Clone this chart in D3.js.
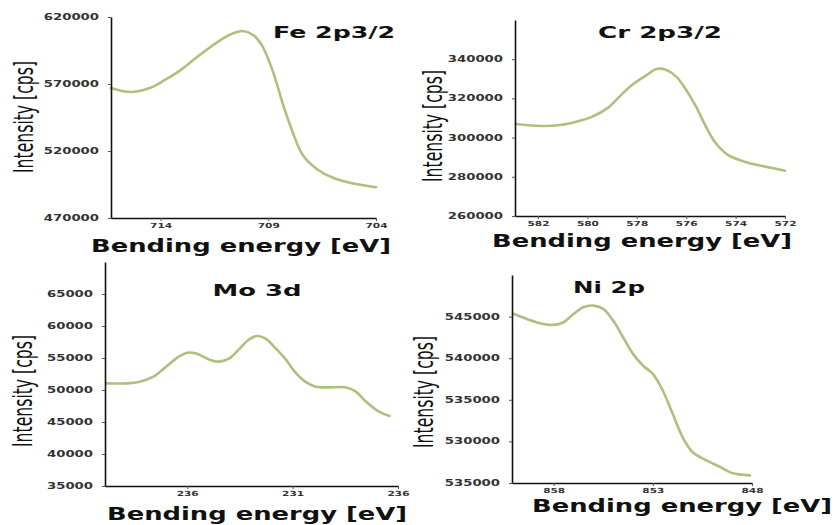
<!DOCTYPE html>
<html>
<head>
<meta charset="utf-8">
<script src="https://cdn.jsdelivr.net/npm/d3@7"></script>
<style>
  html, body { margin: 0; padding: 0; background: #fff; }
  svg { display: block; }
</style>
</head>
<body>
<svg id="chart" width="835" height="525"></svg>
<script>
// ---------- DATA ----------
const feEnergy    = [716.3, 715.4, 714.5, 713.8, 713.1, 712.2, 711.2, 710.6, 710.2, 709.7, 709.3, 708.8, 708.3, 707.9, 707.4, 706.7, 706.0, 705.0, 704.0];
const feIntensity = [567000, 564000, 567000, 573000, 580000, 591500, 603000, 608000, 609500, 606500, 599000, 580000, 554000, 535500, 517000, 506000, 500000, 495500, 493000];
const feXTicks = [714, 709, 704];
const feXLabels = ["714", "709", "704"];
const feYTicks = [620000, 570000, 520000, 470000];
const feYLabels = ["620000", "570000", "520000", "470000"];

const crEnergy    = [582.9, 581.9, 581.1, 580.3, 579.8, 579.2, 578.7, 578.2, 577.6, 577.2, 576.8, 576.4, 576.0, 575.6, 575.2, 574.8, 574.3, 573.5, 572.8, 572.0];
const crIntensity = [306900, 305900, 306400, 308600, 310700, 314900, 320900, 326800, 331900, 335000, 334500, 331100, 324300, 315800, 305600, 297100, 291100, 287200, 285200, 283100];
const crXTicks = [582, 580, 578, 576, 574, 572];
const crXLabels = ["582", "580", "578", "576", "574", "572"];
const crYTicks = [340000, 320000, 300000, 280000, 260000];
const crYLabels = ["340000", "320000", "300000", "280000", "260000"];

const moEnergy    = [239.85, 238.9, 238.25, 237.6, 237.0, 236.4, 236.0, 235.6, 234.9, 234.5, 234.0, 233.5, 233.1, 232.7, 232.3, 231.8, 231.3, 230.9, 230.4, 229.9, 229.1, 228.5, 228.0, 227.6, 226.9, 226.4];
const moIntensity = [51040, 51040, 51300, 52080, 53650, 55200, 55830, 55730, 54690, 54430, 54950, 56510, 57810, 58440, 58070, 56510, 54690, 52860, 51300, 50520, 50420, 50420, 49740, 48440, 46610, 45940];
const moXTicks = [236, 231, 226];
const moXLabels = ["236", "231", "236"];
const moYTicks = [65000, 60000, 55000, 50000, 45000, 40000, 35000];
const moYLabels = ["65000", "60000", "55000", "50000", "45000", "40000", "35000"];

const niEnergy    = [860.0, 859.35, 858.7, 858.0, 857.5, 857.0, 856.5, 856.0, 855.5, 855.0, 854.5, 854.0, 853.5, 853.0, 852.5, 852.0, 851.5, 851.0, 850.3, 849.6, 849.0, 848.1];
const niIntensity = [545320, 544720, 544200, 544000, 544320, 545320, 546120, 546320, 545920, 544520, 542520, 540520, 539120, 538120, 536120, 533320, 530520, 528720, 527720, 526920, 526200, 525920];
const niXTicks = [858, 853, 848];
const niXLabels = ["858", "853", "848"];
const niYTicks = [545000, 540000, 535000, 530000, 525000];
const niYLabels = ["545000", "540000", "535000", "530000", "535000"];

const titles = ["Fe 2p3/2", "Cr 2p3/2", "Mo 3d", "Ni 2p"];
const xAxisTitle = "Bending energy [eV]";
const yAxisTitle = "Intensity [cps]";

// ---------- LAYOUT ----------
const panels = [
  { title: titles[0], energy: feEnergy, intensity: feIntensity, xTicks: feXTicks, xLabels: feXLabels, yTicks: feYTicks, yLabels: feYLabels,
    xDomain: [716.3, 704], yDomain: [470000, 620000], left: 111, right: 376, top: 17, bottom: 218,
    titleX: 334, titleY: 38, titleW: 122, xtX: 241, xtY: 252, ytX: 33, ytY: 117 },
  { title: titles[1], energy: crEnergy, intensity: crIntensity, xTicks: crXTicks, xLabels: crXLabels, yTicks: crYTicks, yLabels: crYLabels,
    xDomain: [582.93, 572], yDomain: [260000, 360000], left: 515, right: 785, top: 20, bottom: 216,
    titleX: 660, titleY: 38, titleW: 124, xtX: 642, xtY: 247, ytX: 442, ytY: 126 },
  { title: titles[2], energy: moEnergy, intensity: moIntensity, xTicks: moXTicks, xLabels: moXLabels, yTicks: moYTicks, yLabels: moYLabels,
    xDomain: [239.9, 226], yDomain: [35000, 70000], left: 105, right: 398, top: 262, bottom: 486,
    titleX: 257, titleY: 296, titleW: 89, xtX: 257, xtY: 520, ytX: 32, ytY: 391 },
  { title: titles[3], energy: niEnergy, intensity: niIntensity, xTicks: niXTicks, xLabels: niXLabels, yTicks: niYTicks, yLabels: niYLabels,
    xDomain: [860.1, 848], yDomain: [525000, 550000], left: 512, right: 752, top: 275, bottom: 483,
    titleX: 609, titleY: 293, titleW: 72, xtX: 682, xtY: 512, ytX: 433, ytY: 392 }
];

const svg = d3.select("#chart");
const lineColor = "#adc17f";
const wideFont = "'DejaVu Sans', Verdana, sans-serif";
const narrowFont = "'Liberation Sans Narrow', 'DejaVu Sans Condensed', 'Liberation Sans', sans-serif";

panels.forEach(p => {
  const g = svg.append("g");
  const x = d3.scaleLinear().domain(p.xDomain).range([p.left, p.right]);
  const y = d3.scaleLinear().domain(p.yDomain).range([p.bottom, p.top]);

  // curve
  const line = d3.line()
    .x((d, i) => x(p.energy[i]))
    .y((d, i) => y(p.intensity[i]))
    .curve(d3.curveCatmullRom.alpha(0.5));
  g.append("path")
    .datum(p.intensity)
    .attr("d", line)
    .attr("fill", "none")
    .attr("stroke", lineColor)
    .attr("stroke-width", 2.6)
    .attr("stroke-linecap", "round");

  // x axis
  const xAxis = d3.axisBottom(x)
    .tickValues(p.xTicks)
    .tickFormat((d, i) => p.xLabels[i])
    .tickSizeInner(3).tickSizeOuter(0).tickPadding(2);
  const gx = g.append("g").attr("transform", `translate(0,${p.bottom})`).call(xAxis);
  gx.select(".domain").attr("stroke", "#111").attr("stroke-width", 1.6);
  gx.selectAll(".tick line").attr("stroke", "#555").attr("stroke-width", 1);
  gx.selectAll(".tick text")
    .attr("font-family", wideFont).attr("font-weight", "bold").attr("font-size", 7)
    .attr("fill", "#333")
    .attr("textLength", 22).attr("lengthAdjust", "spacingAndGlyphs");

  // y axis
  const yAxis = d3.axisLeft(y)
    .tickValues(p.yTicks)
    .tickFormat((d, i) => p.yLabels[i])
    .tickSizeInner(3).tickSizeOuter(0).tickPadding(9);
  const gy = g.append("g").attr("transform", `translate(${p.left},0)`).call(yAxis);
  gy.select(".domain").attr("stroke", "#111").attr("stroke-width", 1.6);
  gy.selectAll(".tick line").attr("stroke", "#555").attr("stroke-width", 1);
  gy.selectAll(".tick text")
    .attr("font-family", wideFont).attr("font-weight", "bold").attr("font-size", 8)
    .attr("fill", "#333")
    .attr("textLength", (d, i) => p.yLabels[i].length * 9.2).attr("lengthAdjust", "spacingAndGlyphs");

  // panel title
  g.append("text")
    .attr("x", p.titleX).attr("y", p.titleY)
    .attr("text-anchor", "middle")
    .attr("font-family", wideFont).attr("font-weight", "bold").attr("font-size", 15)
    .attr("fill", "#111")
    .attr("textLength", p.titleW).attr("lengthAdjust", "spacingAndGlyphs")
    .text(p.title);

  // x axis title
  g.append("text")
    .attr("x", p.xtX).attr("y", p.xtY)
    .attr("text-anchor", "middle")
    .attr("font-family", wideFont).attr("font-weight", "bold").attr("font-size", 17)
    .attr("fill", "#111")
    .attr("textLength", 300).attr("lengthAdjust", "spacingAndGlyphs")
    .text(xAxisTitle);

  // y axis title
  g.append("text")
    .attr("transform", `translate(${p.ytX},${p.ytY}) rotate(-90)`)
    .attr("text-anchor", "middle")
    .attr("font-family", narrowFont).attr("font-size", 26)
    .attr("fill", "#111")
    .attr("textLength", 112).attr("lengthAdjust", "spacingAndGlyphs")
    .text(yAxisTitle);
});
</script>
</body>
</html>
